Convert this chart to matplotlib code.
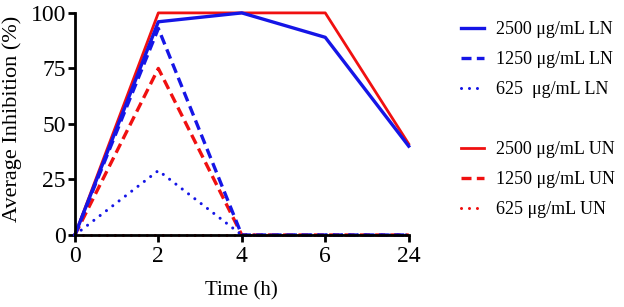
import matplotlib.pyplot as plt
from matplotlib.lines import Line2D

plt.rcParams['font.family'] = ['Liberation Serif', 'DejaVu Serif']

# Data
times = ['0', '2', '4', '6', '24']
ln_2500 = [0, 96, 100, 89, 40]
ln_1250 = [0, 93, 0, 0, 0]
ln_625 = [0, 29, 0, 0, 0]
un_2500 = [0, 100, 100, 100, 41]
un_1250 = [0, 75, 0, 0, 0]
un_625 = [0, 0, 0, 0, 0]

labels_ln = ['2500 μg/mL LN', '1250 μg/mL LN', '625  μg/mL LN']
labels_un = ['2500 μg/mL UN', '1250 μg/mL UN', '625 μg/mL UN']

blue = '#1515e6'
red = '#f01010'
dot = (0, (0.01, 2.6))
dash = (0, (3, 1.6))

fig = plt.figure(figsize=(6.24, 3.07), dpi=100)
ax = fig.add_axes([0.12, 0.2345, 0.535, 0.7235])

x = list(range(len(times)))

# UN first, LN on top
l4, = ax.plot(x, un_2500, color=red, lw=2.0, ls='-', clip_on=False)
l5, = ax.plot(x, un_1250, color=red, lw=2.4, ls=dash, clip_on=False)
l6, = ax.plot(x, un_625, color=red, lw=2.2, ls=dot, dash_capstyle='round', clip_on=False)
l1, = ax.plot(x, ln_2500, color=blue, lw=2.4, ls='-', clip_on=False)
l2, = ax.plot(x, ln_1250, color=blue, lw=2.4, ls=dash, clip_on=False)
l3, = ax.plot(x, ln_625, color=blue, lw=2.2, ls=dot, dash_capstyle='round', clip_on=False)

ax.set_xlim(0, len(times) - 1)
ax.set_ylim(0, 100)
ax.set_xticks(x)
ax.set_xticklabels(times)
ax.set_yticks([0, 25, 50, 75, 100])

for s in ['top', 'right']:
    ax.spines[s].set_visible(False)
for s in ['left', 'bottom']:
    ax.spines[s].set_linewidth(2.0)
ax.tick_params(width=2.0, length=5, labelsize=17)
ax.tick_params(axis='y', pad=1.5)
ax.tick_params(axis='x', pad=3)

ax.set_xlabel('Time (h)', fontsize=15, labelpad=10)
ax.set_ylabel('Average Inhibition (%)', fontsize=16)
ax.yaxis.set_label_coords(-0.158, 0.525)

blank = Line2D([], [], color='none')
handles = [l1, l2, l3, blank, l4, l5, l6]
labels = labels_ln + [''] + labels_un
fig.legend(handles, labels, loc='upper left', bbox_to_anchor=(0.738, 0.932),
           frameon=False, fontsize=13, handlelength=1.3, handletextpad=0.65,
           labelspacing=0.72, borderpad=0, borderaxespad=0)

fig.savefig('out.png', dpi=100)
